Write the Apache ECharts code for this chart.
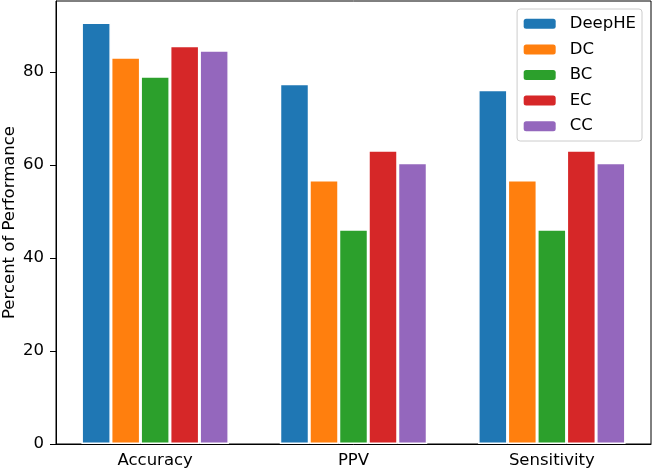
<!DOCTYPE html>
<html>
<head>
<meta charset="utf-8">
<script src="https://cdn.jsdelivr.net/npm/echarts@6/dist/echarts.min.js"></script>
<style>html,body{margin:0;padding:0;background:#fff}#c{width:652px;height:472px}</style>
</head>
<body>
<div id="c"></div>
<script>
const categories = ['Accuracy', 'PPV', 'Sensitivity'];
const seriesNames = ['DeepHE', 'DC', 'BC', 'EC', 'CC'];
const deephe = [90.7, 77.5, 76.2];
const dc = [83.2, 56.8, 56.8];
const bc = [79.1, 46.2, 46.2];
const ec = [85.7, 63.2, 63.2];
const cc = [84.7, 60.5, 60.5];
const yTicks = [0, 20, 40, 60, 80];
const colors = ['#1f77b4', '#ff7f0e', '#2ca02c', '#d62728', '#9467bd'];
const values = [deephe, dc, bc, ec, cc];

const font = 'DejaVu Sans';
const fs = 16.5;
const chart = echarts.init(document.getElementById('c'), null, {renderer: 'canvas'});
chart.setOption({
  animation: false,
  textStyle: {fontFamily: font},
  grid: {left: 56, right: 1, top: 1, bottom: 28, outerBoundsMode: 'none', containLabel: false,
         show: true, borderColor: '#000', borderWidth: 1, backgroundColor: 'transparent'},
  legend: {
    orient: 'vertical', right: 10, top: 9,
    itemWidth: 32, itemHeight: 10, itemGap: 8.6,
    padding: [6.3, 6, 6.3, 6.6],
    borderColor: '#cccccc', borderWidth: 1, borderRadius: 3,
    backgroundColor: 'rgba(255,255,255,0.8)',
    textStyle: {fontSize: fs, color: '#000', fontFamily: font, lineHeight: 16, padding: [0, 0, 0, 9]},
    data: seriesNames,
    itemStyle: {borderWidth: 0}
  },
  xAxis: {
    type: 'category', data: categories,
    axisLine: {lineStyle: {color: '#000', width: 1}},
    axisTick: {alignWithLabel: true, length: 6, lineStyle: {color: '#000'}},
    axisLabel: {fontSize: fs, color: '#000', margin: 8, fontFamily: font},
    splitLine: {show: false}
  },
  yAxis: {
    type: 'value', min: 0, max: 95.3,
    name: 'Percent of Performance', nameLocation: 'middle', nameGap: 38, nameMoveOverlap: false,
    nameTextStyle: {fontSize: fs, color: '#000', fontFamily: font},
    axisLine: {show: true, lineStyle: {color: '#000', width: 1}},
    axisTick: {show: true, length: 6, lineStyle: {color: '#000'}, customValues: yTicks},
    axisLabel: {fontSize: fs, color: '#000', margin: 12, fontFamily: font, customValues: yTicks},
    splitLine: {show: false}
  },
  series: seriesNames.map((n, i) => ({
    name: n, type: 'bar', data: values[i],
    barWidth: 29.5, barGap: '0%',
    itemStyle: {color: colors[i], borderColor: '#fff', borderWidth: 1.5}
  }))
});
</script>
</body>
</html>
